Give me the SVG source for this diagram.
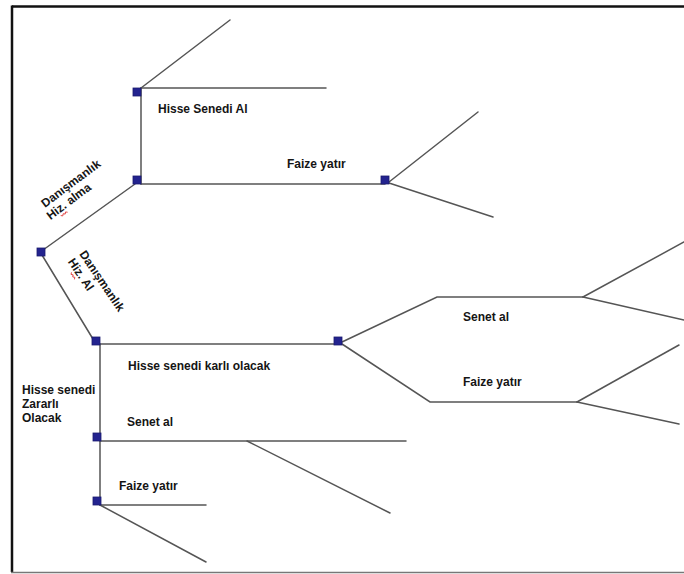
<svg xmlns="http://www.w3.org/2000/svg" width="684" height="574" viewBox="0 0 684 574">
<style>
.ln{stroke:#555;stroke-width:1.5;fill:none;stroke-linecap:round}
.nd{fill:#23238f;stroke:#1a1a6e;stroke-width:0.8}
text{font-family:"Liberation Sans",Arial,sans-serif;font-weight:bold;font-size:12px;fill:#151515}
.sq{stroke:#d33;stroke-width:0.8;fill:none}
</style>
<rect width="684" height="574" fill="#fff"/>
<g id="frame">
<line x1="12" y1="6.5" x2="684" y2="6.5" stroke="#111" stroke-width="2.5"/>
<line x1="12" y1="5.5" x2="12" y2="572" stroke="#111" stroke-width="2.5"/>
<line x1="11" y1="572.5" x2="684" y2="572.5" stroke="#777" stroke-width="1.5"/>
</g>
<g id="connectors">
<path class="ln" d="M141 88 L230 20"/>
<path class="ln" d="M141 88 H326"/>
<path class="ln" d="M141 88 V184"/>
<path class="ln" d="M141 184 H385"/>
<path class="ln" d="M389 182 L478 112"/>
<path class="ln" d="M389 183 L493 217"/>
<path class="ln" d="M135 184 L43 250"/>
<path class="ln" d="M42 255 L96 344"/>
<path class="ln" d="M100 344 H338"/>
<path class="ln" d="M342 342 L437 297 H583"/>
<path class="ln" d="M583 297 L684 242"/>
<path class="ln" d="M583 297 L684 320"/>
<path class="ln" d="M342 344 L430 402 H577"/>
<path class="ln" d="M577 402 L679 345"/>
<path class="ln" d="M577 402 L679 424"/>
<path class="ln" d="M100 344 V505"/>
<path class="ln" d="M100 441 H406"/>
<path class="ln" d="M247 441 L390 513"/>
<path class="ln" d="M100 505 H206"/>
<path class="ln" d="M100 505 L206 562"/>
</g>
<g id="n1"><rect class="nd" x="133" y="88" width="8" height="8"/></g>
<g id="n2"><rect class="nd" x="133" y="176" width="8" height="8"/></g>
<g id="n3"><rect class="nd" x="381" y="176" width="8" height="8"/></g>
<g id="n4"><rect class="nd" x="37" y="248" width="8" height="8"/></g>
<g id="n5"><rect class="nd" x="92" y="337" width="8" height="8"/></g>
<g id="n6"><rect class="nd" x="334" y="337" width="8" height="8"/></g>
<g id="n7"><rect class="nd" x="93" y="433" width="8" height="8"/></g>
<g id="n8"><rect class="nd" x="93" y="497" width="8" height="8"/></g>
<g id="labels">
<text x="158" y="113">Hisse Senedi Al</text>
<text x="287" y="168">Faize yatır</text>
<g transform="translate(45,208) rotate(-37)">
<text><tspan x="0" y="0">Danışmanlık</tspan><tspan x="-3" y="13">Hiz. alma</tspan></text>
<path class="sq" d="M8 15.5 l1.5 1.5 l1.5 -1.5 l1.5 1.5 l1.5 -1.5 l1.5 1.5"/>
</g>
<g transform="translate(79,254) rotate(56)">
<text><tspan x="0" y="0">Danışmanlık</tspan><tspan x="0" y="14">Hiz. Al</tspan></text>
<path class="sq" d="M11 16.5 l1.5 1.5 l1.5 -1.5 l1.5 1.5 l1.5 -1.5 l1.5 1.5"/>
</g>
<text x="128" y="370">Hisse senedi karlı olacak</text>
<text x="22" y="394">Hisse senedi</text>
<text x="22" y="408">Zararlı</text>
<text x="22" y="422">Olacak</text>
<text x="127" y="426">Senet al</text>
<text x="119" y="490">Faize yatır</text>
<text x="463" y="321">Senet al</text>
<text x="463" y="386">Faize yatır</text>
</g>
</svg>
